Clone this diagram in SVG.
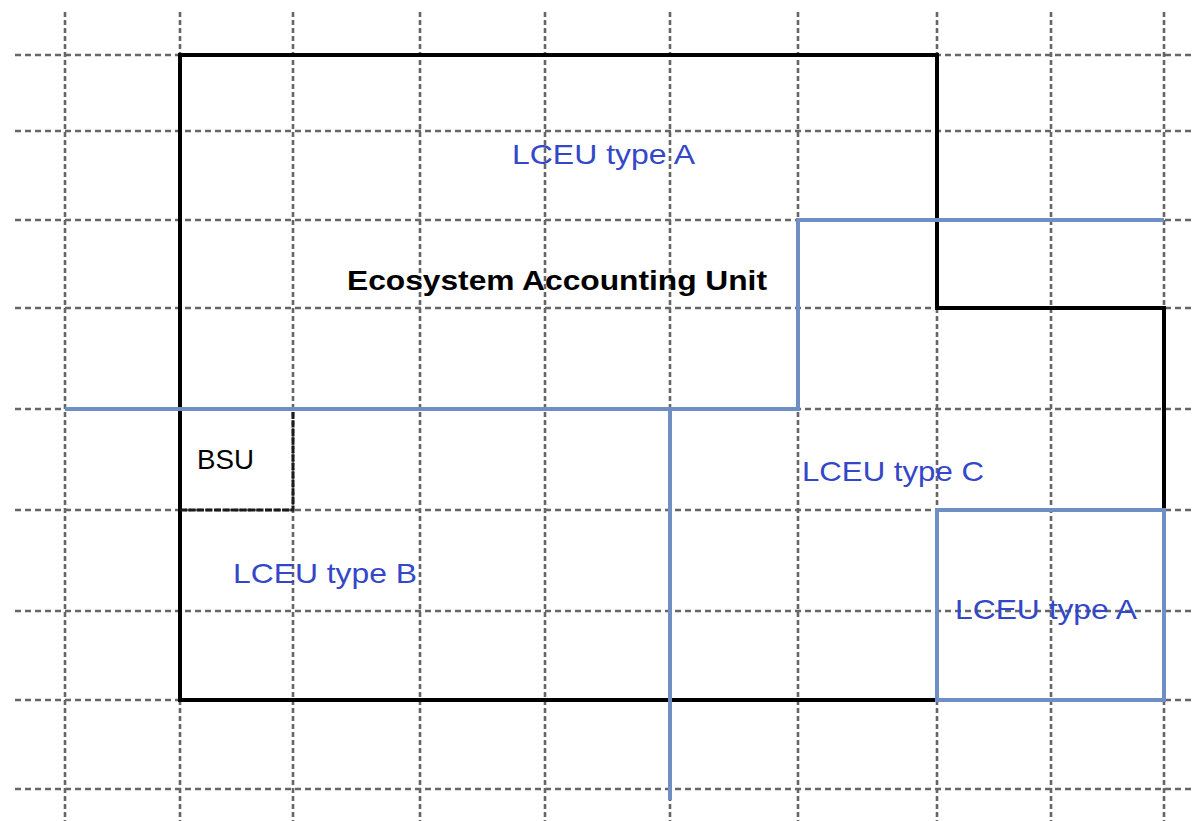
<svg xmlns="http://www.w3.org/2000/svg" width="1195" height="821" viewBox="0 0 1195 821">
<style>
.gh{stroke:#666;stroke-width:2.6;stroke-dasharray:6 4;fill:none}
.gv{stroke:#666;stroke-width:2.6;stroke-dasharray:5 3;fill:none}
.blk{stroke:#000;stroke-width:4;fill:none}
.blu{stroke:#6f8fc4;stroke-width:4;fill:none}
.bsu{stroke:#1a1a1a;stroke-width:3;stroke-dasharray:7 1.5;fill:none}
.t{font-family:"Liberation Sans",Arial,sans-serif;font-size:28px}
.tb{fill:#3347c8}
</style>
<rect width="1195" height="821" fill="#fff"/>
<g id="grid">
<line class="gh" x1="15" y1="55" x2="1195" y2="55"/>
<line class="gh" x1="15" y1="131" x2="1195" y2="131"/>
<line class="gh" x1="15" y1="220" x2="1195" y2="220"/>
<line class="gh" x1="15" y1="308" x2="1195" y2="308"/>
<line class="gh" x1="15" y1="409" x2="1195" y2="409"/>
<line class="gh" x1="15" y1="510" x2="1195" y2="510"/>
<line class="gh" x1="15" y1="611" x2="1195" y2="611"/>
<line class="gh" x1="15" y1="700" x2="1195" y2="700"/>
<line class="gh" x1="15" y1="789" x2="1195" y2="789"/>
<line class="gv" x1="65" y1="12" x2="65" y2="821"/>
<line class="gv" x1="180" y1="12" x2="180" y2="821"/>
<line class="gv" x1="293" y1="12" x2="293" y2="821"/>
<line class="gv" x1="420" y1="12" x2="420" y2="821"/>
<line class="gv" x1="545" y1="12" x2="545" y2="821"/>
<line class="gv" x1="670" y1="12" x2="670" y2="821"/>
<line class="gv" x1="798" y1="12" x2="798" y2="821"/>
<line class="gv" x1="937" y1="12" x2="937" y2="821"/>
<line class="gv" x1="1051" y1="12" x2="1051" y2="821"/>
<line class="gv" x1="1164" y1="12" x2="1164" y2="821"/>
</g>
<g id="eau">
<path class="blk" d="M937,700 L180,700 L180,55 L937,55 L937,308 L1164,308 L1164,510"/>
<text class="t" x="347" y="290" font-weight="bold" font-size="29" textLength="420" lengthAdjust="spacingAndGlyphs">Ecosystem Accounting Unit</text>
</g>
<g id="bsu">
<path class="bsu" d="M180,510 L293,510 L293,409"/>
<text class="t" x="197" y="469" textLength="57" lengthAdjust="spacingAndGlyphs">BSU</text>
</g>
<g id="connectors">
<path class="blu" d="M65,409 L798,409 L798,220 L1164,220"/>
<path class="blu" d="M670,409 L670,800"/>
</g>
<g id="lceu-a-top">
<text class="t tb" x="512" y="164" textLength="183" lengthAdjust="spacingAndGlyphs">LCEU type A</text>
</g>
<g id="lceu-b">
<text class="t tb" x="233" y="583" textLength="184" lengthAdjust="spacingAndGlyphs">LCEU type B</text>
</g>
<g id="lceu-c">
<text class="t tb" x="802" y="481" textLength="182" lengthAdjust="spacingAndGlyphs">LCEU type C</text>
</g>
<g id="lceu-a-box">
<rect class="blu" x="937" y="510" width="227" height="190"/>
<text class="t tb" x="955" y="619" textLength="182" lengthAdjust="spacingAndGlyphs">LCEU type A</text>
</g>
</svg>
